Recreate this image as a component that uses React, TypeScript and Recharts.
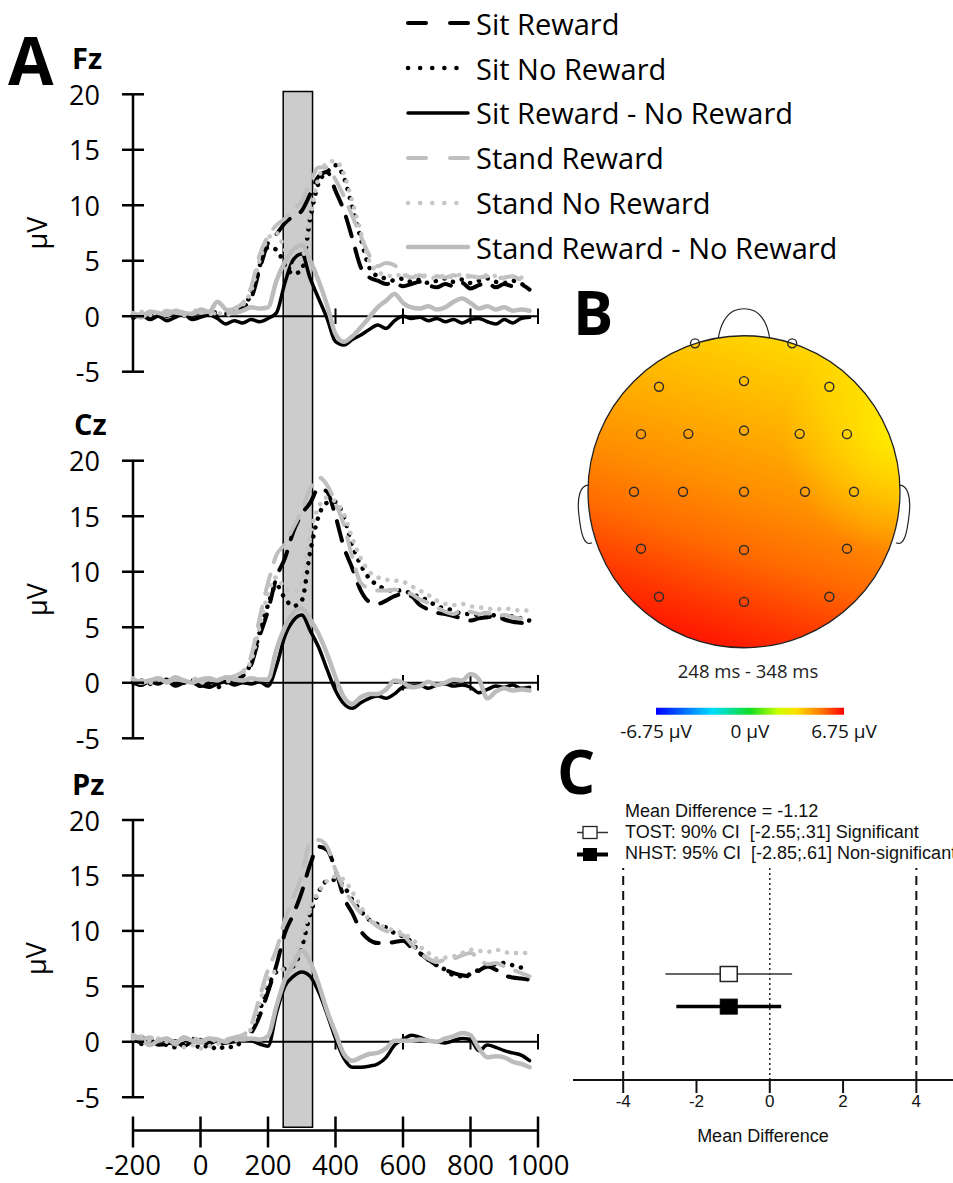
import React from "react";
import {
  LineChart,
  Line,
  XAxis,
  YAxis,
  ReferenceLine,
  ReferenceArea,
  ReferenceDot,
  Legend,
  ScatterChart,
  Scatter,
  ErrorBar,
  BarChart,
  Bar,
} from "recharts";

// time axis (ms) — samples every 25 ms
const TIMES = [
  -200, -175, -150, -125, -100, -75, -50, -25, 0, 25, 50, 75, 100, 125, 150, 175, 200, 225, 250, 275, 300, 325, 350,
  375, 400, 425, 450, 475, 500, 525, 550, 575, 600, 625, 650, 675, 700, 725, 750, 775, 800, 825, 850, 875, 900, 925,
  950, 975,
];
const X_TICKS = [-200, 0, 200, 400, 600, 800, 1000];
const Y_TICKS = [-5, 0, 5, 10, 15, 20];
const ZERO_TICKS = [400, 600, 800, 1000];
const WINDOW = [245, 332];

// Fz
const FZ_SIT_R = [0.2, 0.0, 0.3, 0.1, 0.4, 0.2, 0.3, 0.5, 0.2, 0.1, 0.4, 0.3, 0.6, 0.8, 1.6, 4.2, 6.6, 7.4, 8.4, 9.0, 9.5, 11.0, 12.6, 13.0, 11.3, 9.5, 7.0, 4.4, 3.5, 3.2, 2.9, 3.0, 2.7, 2.9, 3.1, 2.8, 2.6, 2.9, 2.7, 3.0, 2.5, 2.8, 3.0, 2.6, 2.9, 2.7, 2.8, 2.4];
const FZ_SIT_N = [0.1, 0.3, -0.1, 0.2, 0.0, 0.3, 0.1, -0.2, 0.3, 0.2, 0.0, 0.2, 0.4, 0.9, 2.0, 4.5, 6.2, 6.0, 4.6, 3.8, 4.2, 8.8, 12.0, 13.0, 13.6, 12.5, 9.8, 7.0, 4.4, 3.6, 3.4, 3.2, 3.4, 3.1, 3.3, 3.0, 3.2, 3.4, 3.1, 3.3, 3.0, 3.2, 3.4, 3.1, 3.0, 3.2, 2.9, 2.8];
const FZ_SIT_D = [-0.2, 0.1, -0.3, 0.0, -0.4, -0.1, 0.2, -0.3, -0.1, 0.1, -0.2, -0.7, -0.4, -0.6, -0.3, -0.5, -0.2, 0.3, 3.0, 5.1, 5.6, 3.4, 1.6, -0.2, -2.3, -2.6, -2.1, -1.7, -1.2, -0.8, -1.1, -0.4, 0.0, -0.2, -0.1, -0.4, -0.2, -0.5, -0.3, -0.6, -0.3, -0.2, -0.5, -0.7, -0.3, -0.6, -0.2, -0.1];
const FZ_ST_R = [0.3, 0.1, 0.4, 0.2, 0.5, 0.3, 0.2, 0.6, 0.3, 0.4, 0.2, 0.5, 0.7, 1.2, 2.6, 5.5, 7.2, 8.2, 8.8, 9.7, 10.3, 12.0, 13.4, 13.4, 12.3, 10.8, 9.0, 7.2, 5.5, 4.5, 4.8, 4.6, 3.8, 3.5, 3.7, 3.4, 3.6, 3.5, 3.7, 3.4, 3.6, 3.5, 3.6, 3.4, 3.5, 3.6, 3.3, 3.4];
const FZ_ST_N = [0.2, 0.4, 0.1, 0.3, 0.2, 0.5, 0.1, 0.3, 0.4, 0.2, 0.3, 0.1, 0.5, 1.0, 2.3, 5.0, 7.0, 7.5, 6.0, 4.5, 5.0, 9.0, 12.5, 13.8, 14.0, 12.8, 10.3, 7.6, 5.0, 4.0, 3.7, 3.6, 3.8, 3.5, 3.7, 3.6, 3.4, 3.7, 3.5, 3.8, 3.6, 3.5, 3.7, 3.6, 3.4, 3.6, 3.5, 3.3];
const FZ_ST_D = [0.2, -0.1, 0.4, 0.3, 0.1, 0.5, 0.3, 0.2, 0.6, 0.4, 1.3, 0.6, 0.3, 0.5, 0.8, 0.7, 0.8, 3.2, 4.9, 6.0, 6.4, 5.0, 3.2, 1.0, -1.6, -2.3, -1.8, -1.0, -0.1, 0.8, 1.4, 2.0, 1.2, 0.8, 0.7, 0.9, 0.6, 0.8, 1.3, 1.6, 1.2, 0.7, 0.9, 0.6, 0.8, 0.5, 0.6, 0.5];

// Cz
const CZ_SIT_R = [0.1, -0.2, 0.2, 0.0, 0.3, -0.1, 0.2, 0.1, -0.3, 0.0, 0.2, 0.1, 0.3, 0.6, 1.6, 4.2, 6.5, 9.5, 11.2, 13.6, 15.2, 16.2, 17.5, 17.2, 15.0, 12.2, 10.3, 8.3, 7.3, 7.1, 7.4, 7.8, 8.0, 7.8, 7.0, 6.6, 6.3, 6.2, 6.0, 5.8, 5.6, 5.8, 5.9, 6.0, 5.7, 5.5, 5.4, 5.3];
const CZ_SIT_N = [0.0, 0.2, -0.1, 0.3, 0.1, -0.2, 0.0, 0.2, 0.1, -0.3, -0.4, 0.0, 0.2, 0.7, 1.8, 4.5, 7.0, 8.8, 7.6, 6.9, 7.4, 11.8, 15.0, 16.2, 16.3, 14.9, 12.3, 10.6, 9.4, 8.8, 8.4, 8.3, 8.3, 8.0, 7.7, 7.4, 6.9, 6.7, 6.5, 6.2, 6.2, 6.1, 6.3, 6.0, 5.9, 6.0, 5.8, 5.6];
const CZ_SIT_D = [0.0, -0.2, 0.1, -0.1, 0.2, -0.3, 0.0, 0.1, -0.2, -0.4, -0.1, 0.1, -0.2, 0.0, -0.1, 0.1, -0.3, 1.5, 4.2, 5.6, 6.1, 4.7, 3.2, 1.2, -0.7, -1.9, -2.3, -1.8, -1.4, -1.2, -1.4, -1.0, -0.4, -0.3, -0.2, -0.5, -0.2, -0.1, -0.3, -0.2, -0.4, -0.9, -0.6, -0.3, -0.4, -0.2, -0.5, -0.4];
const CZ_ST_R = [0.3, 0.1, 0.2, 0.4, 0.0, 0.3, 0.2, 0.5, 0.1, 0.3, 0.2, 0.4, 0.6, 1.0, 2.4, 5.8, 9.0, 11.5, 12.5, 14.0, 15.5, 17.5, 18.5, 17.8, 16.2, 14.2, 11.3, 9.0, 8.5, 8.3, 8.3, 8.4, 8.2, 8.0, 7.5, 7.2, 6.8, 6.4, 6.2, 6.5, 6.4, 6.2, 6.3, 6.0, 6.1, 5.9, 5.8, 5.9];
const CZ_ST_N = [0.4, 0.2, 0.0, 0.3, 0.1, 0.4, 0.2, 0.3, 0.0, 0.2, 0.4, 0.1, 0.5, 0.9, 2.0, 5.0, 8.0, 9.5, 8.5, 8.2, 9.0, 13.5, 15.8, 16.7, 16.3, 15.2, 13.0, 11.2, 10.0, 9.5, 9.3, 9.2, 9.1, 8.7, 8.3, 7.9, 7.4, 7.1, 7.0, 7.1, 6.9, 6.8, 6.7, 6.6, 6.7, 6.6, 6.5, 6.5];
const CZ_ST_D = [0.3, 0.0, 0.2, 0.4, 0.1, 0.5, 0.2, 0.0, 0.3, 0.4, 0.2, 0.5, 0.3, 0.2, 0.4, 0.3, 0.3, 3.0, 5.0, 6.3, 6.7, 5.7, 4.4, 2.6, 0.5, -1.3, -1.9, -1.3, -1.0, -1.0, -0.6, 0.2, 0.0, -0.4, -0.3, 0.1, -0.2, 0.0, 0.3, 0.2, 0.8, 0.3, -1.4, -0.8, -0.5, -0.7, -0.6, -0.7];

// Pz
const PZ_SIT_R = [0.2, 0.4, -0.1, 0.3, 0.0, -0.2, 0.1, 0.3, -0.1, 0.2, -0.3, 0.0, 0.2, 0.3, 0.8, 2.3, 4.5, 6.9, 9.8, 11.5, 13.5, 16.0, 17.6, 17.3, 15.5, 13.0, 11.6, 10.0, 9.2, 8.9, 8.9, 9.0, 9.1, 8.5, 8.0, 7.4, 6.9, 6.5, 6.2, 6.0, 5.9, 6.4, 6.8, 6.5, 6.0, 5.8, 5.7, 5.6];
const PZ_SIT_N = [0.1, -0.2, 0.3, 0.0, -0.3, -0.5, -0.2, 0.1, -0.6, -0.3, -0.7, -0.4, -0.5, 0.2, 1.0, 2.8, 5.0, 6.3, 6.6, 6.8, 8.5, 11.5, 13.5, 14.5, 14.6, 14.0, 12.8, 11.8, 11.0, 10.6, 10.3, 9.8, 9.5, 9.0, 8.0, 7.4, 6.9, 6.5, 6.0, 5.9, 6.1, 6.5, 6.8, 7.0, 7.1, 6.9, 6.7, 6.6];
const PZ_SIT_D = [0.3, -0.1, 0.2, -0.3, -0.2, 0.1, -0.4, 0.0, 0.2, -0.2, 0.1, -0.1, 0.0, 0.2, 0.1, -0.2, -0.4, 2.6, 5.0, 5.9, 6.3, 5.9, 4.5, 2.5, 0.3, -1.5, -2.3, -2.3, -2.2, -2.0, -1.4, -0.3, 0.2, 0.6, 0.4, 0.1, 0.0, -0.1, 0.1, 0.3, 0.2, -0.8, -0.3, -0.5, -0.8, -1.0, -1.2, -1.7];
const PZ_ST_R = [0.5, 0.2, 0.4, 0.1, 0.3, 0.0, 0.2, 0.4, 0.1, 0.3, 0.0, 0.2, 0.4, 0.6, 1.5, 4.0, 6.5, 8.3, 11.0, 13.0, 15.0, 18.0, 18.2, 17.6, 15.5, 13.8, 12.6, 11.6, 11.0, 10.4, 10.0, 9.8, 9.6, 8.8, 8.0, 7.5, 7.2, 7.4, 7.5, 7.8, 8.0, 7.5, 7.0, 7.1, 6.8, 6.5, 6.2, 5.9];
const PZ_ST_N = [0.2, 0.5, 0.1, 0.3, 0.0, -0.2, -0.5, -0.3, -0.6, -0.4, -0.2, 0.0, 0.1, 0.3, 1.2, 3.5, 5.8, 6.4, 6.6, 7.5, 9.5, 12.0, 13.5, 14.5, 14.9, 14.6, 13.5, 12.2, 11.0, 10.6, 10.3, 10.0, 9.8, 9.3, 8.6, 8.0, 7.5, 7.6, 7.7, 8.0, 8.3, 8.2, 8.1, 8.3, 8.1, 8.0, 8.0, 8.0];
const PZ_ST_D = [0.6, 0.2, -0.3, 0.1, 0.3, -0.2, 0.4, 0.1, -0.1, 0.3, 0.2, 0.0, 0.3, 0.2, 0.3, 0.2, 0.5, 3.2, 5.6, 7.0, 8.2, 7.2, 5.2, 2.8, 0.8, -1.1, -1.7, -1.4, -1.1, -1.0, -0.6, 0.1, 0.1, 0.1, 0.2, 0.1, 0.0, 0.3, 0.5, 0.8, 0.6, -0.6, -1.4, -1.3, -1.4, -1.8, -2.0, -2.3];

// topographic map electrodes (unit head coordinates)
const ELECTRODES = [
  { x: -0.314, y: 0.951 }, { x: 0.309, y: 0.951 },
  { x: -0.545, y: 0.673 }, { x: 0, y: 0.709 }, { x: 0.547, y: 0.673 },
  { x: -0.66, y: 0.369 }, { x: -0.357, y: 0.371 }, { x: 0, y: 0.392 }, { x: 0.357, y: 0.371 }, { x: 0.66, y: 0.369 },
  { x: -0.705, y: 0 }, { x: -0.391, y: 0 }, { x: 0, y: 0 }, { x: 0.391, y: 0 }, { x: 0.705, y: 0 },
  { x: -0.66, y: -0.365 }, { x: 0, y: -0.373 }, { x: 0.66, y: -0.365 },
  { x: -0.545, y: -0.673 }, { x: 0, y: -0.706 }, { x: 0.547, y: -0.673 },
];
const CBAR_TICKS = [-6.75, 0, 6.75];
const CBAR_ROWS = [{ name: "scale", range: [-6.75, 6.75] }];

// equivalence test
const MD_TICKS = [-4, -2, 0, 2, 4];
const MEAN_DIFF = -1.12;
const TOST_CI = [-2.85, 0.61];
const NHST_CI = [-2.55, 0.31];
const BOUNDS = [-4, 4];

const SERIES = [
  { key: "sitR", name: "Sit Reward", color: "#000000", width: 4, dash: "20 13", legendDash: "18 24" },
  { key: "sitN", name: "Sit No Reward", color: "#000000", width: 4.5, dash: "0.1 9", legendDash: "0.1 12" },
  { key: "sitD", name: "Sit Reward - No Reward", color: "#000000", width: 3.5 },
  { key: "stR", name: "Stand Reward", color: "#bfbfbf", width: 4, dash: "20 13", legendDash: "18 24" },
  { key: "stN", name: "Stand No Reward", color: "#c6c6c6", width: 4.5, dash: "0.1 9", legendDash: "0.1 12" },
  { key: "stD", name: "Stand Reward - No Reward", color: "#bcbcbc", width: 4.5 },
];

const FONT = "'Open Sans', sans-serif";
const ARIAL = "'Liberation Sans', Arial, sans-serif";

function buildRows(arrs: number[][]) {
  return TIMES.map((t, i) => {
    const row: Record<string, number> = { t };
    SERIES.forEach((s, j) => (row[s.key] = arrs[j][i]));
    return row;
  });
}

const FZ_ROWS = buildRows([FZ_SIT_R, FZ_SIT_N, FZ_SIT_D, FZ_ST_R, FZ_ST_N, FZ_ST_D]);
const CZ_ROWS = buildRows([CZ_SIT_R, CZ_SIT_N, CZ_SIT_D, CZ_ST_R, CZ_ST_N, CZ_ST_D]);
const PZ_ROWS = buildRows([PZ_SIT_R, PZ_SIT_N, PZ_SIT_D, PZ_ST_R, PZ_ST_N, PZ_ST_D]);

const YTick = (p: any) => (
  <g>
    <line x1={p.x - 11} x2={p.x + 11} y1={p.y} y2={p.y} stroke="#000" strokeWidth={2.5} />
    <text x={p.x - 33} y={p.y} textAnchor="end" dominantBaseline="central" fontSize={27} fontFamily={FONT} fill="#000">
      {p.payload.value}
    </text>
  </g>
);

const XTick = (p: any) => (
  <g>
    <line x1={p.x} x2={p.x} y1={p.y - 14} y2={p.y + 17} stroke="#000" strokeWidth={2.5} />
    <text x={p.x} y={p.y + 34} textAnchor="middle" dominantBaseline="central" fontSize={27.5} fontFamily={FONT} fill="#000">
      {p.payload.value}
    </text>
  </g>
);

const uvLabel = (yMin: number) => (p: any) => {
  const vb = p.viewBox;
  const cy = vb.y + (vb.height * (20 - 7.5)) / (20 - yMin);
  return (
    <text
      x={36}
      y={cy}
      transform={`rotate(-90 36 ${cy})`}
      textAnchor="middle"
      dominantBaseline="central"
      fontSize={27}
      fontFamily={FONT}
      fill="#000"
    >
      µV
    </text>
  );
};

const ErpLegend = () => (
  <div style={{ fontFamily: FONT, fontSize: 29, color: "#000" }}>
    {SERIES.map((s) => (
      <div key={s.key} style={{ height: 44.8, display: "flex", alignItems: "center" }}>
        <svg width={70} height={12}>
          <line
            x1={5}
            x2={65}
            y1={6}
            y2={6}
            stroke={s.color}
            strokeWidth={s.width}
            strokeDasharray={s.legendDash}
            strokeLinecap="round"
          />
        </svg>
        <span style={{ marginLeft: 3, whiteSpace: "nowrap" }}>{s.name}</span>
      </div>
    ))}
  </div>
);

function ErpPanel(props: {
  rows: Record<string, number>[];
  top: number;
  height: number;
  mTop: number;
  mBottom: number;
  yMin: number;
  last?: boolean;
  legend?: boolean;
}) {
  const { rows, top, height, mTop, mBottom, yMin, last, legend } = props;
  return (
    <div style={{ position: "absolute", left: 0, top }}>
      <LineChart width={560} height={height} data={rows} margin={{ top: mTop, right: 22, bottom: mBottom, left: 0 }}>
        <XAxis
          type="number"
          dataKey="t"
          domain={[-200, 1000]}
          ticks={X_TICKS}
          interval={0}
          hide={!last}
          height={52.5}
          tickLine={false}
          tickSize={0}
          tickMargin={0}
          axisLine={{ stroke: "#000", strokeWidth: 2.5 }}
          tick={XTick}
        />
        <YAxis
          type="number"
          domain={[yMin, 20]}
          ticks={Y_TICKS}
          interval={0}
          width={133}
          axisLine={false}
          tickLine={false}
          tickSize={0}
          tickMargin={0}
          tick={YTick}
          label={{ content: uvLabel(yMin) }}
        />
        {last && (
          <ReferenceArea
            x1={WINDOW[0]}
            x2={WINDOW[1]}
            y1={-7.7}
            y2={85.7}
            ifOverflow="visible"
            fill="#cccccc"
            fillOpacity={1}
            stroke="#000"
            strokeWidth={1.5}
          />
        )}
        <ReferenceLine
          segment={[
            { x: -200, y: -5 },
            { x: -200, y: 20 },
          ]}
          stroke="#000"
          strokeWidth={2.5}
          ifOverflow="visible"
        />
        <ReferenceLine y={0} stroke="#000" strokeWidth={2} />
        {ZERO_TICKS.map((x) => (
          <ReferenceLine
            key={x}
            segment={[
              { x, y: -0.7 },
              { x, y: 0.7 },
            ]}
            stroke="#000"
            strokeWidth={2}
            ifOverflow="visible"
          />
        ))}
        {legend && (
          <Legend
            layout="vertical"
            align="center"
            verticalAlign="middle"
            wrapperStyle={{ top: 1, left: 403, width: 480 }}
            content={() => <ErpLegend />}
          />
        )}
        {SERIES.map((s) => (
          <Line
            key={s.key}
            type="monotone"
            dataKey={s.key}
            name={s.name}
            stroke={s.color}
            strokeWidth={s.width}
            strokeDasharray={s.dash}
            strokeLinecap="round"
            dot={false}
            activeDot={false}
            isAnimationActive={false}
          />
        ))}
      </LineChart>
    </div>
  );
}

const HeadShape = (p: any) => {
  const { cx, cy } = p;
  const R = 156;
  const ear = (s: number) =>
    `M ${cx + s * 152} ${cy - 6} C ${cx + s * 165} ${cy - 10} ${cx + s * 167} ${cy + 8} ${cx + s * 165} ${cy + 24} ` +
    `C ${cx + s * 163} ${cy + 42} ${cx + s * 160} ${cy + 55} ${cx + s * 152} ${cy + 51}`;
  const nose =
    `M ${cx - 26} ${cy - 152} C ${cx - 24} ${cy - 165} ${cx - 20} ${cy - 176} ${cx - 10} ${cy - 181} ` +
    `Q ${cx} ${cy - 185} ${cx + 10} ${cy - 181} C ${cx + 20} ${cy - 176} ${cx + 24} ${cy - 165} ${cx + 26} ${cy - 152}`;
  return (
    <g>
      <path d={ear(-1)} fill="#fff" stroke="#222" strokeWidth={1.2} />
      <path d={ear(1)} fill="#fff" stroke="#222" strokeWidth={1.2} />
      <path d={nose} fill="#fff" stroke="#222" strokeWidth={1.2} />
      <circle cx={cx} cy={cy} r={R} fill="url(#headGrad)" />
      <circle cx={cx} cy={cy} r={R} fill="url(#headGlow)" stroke="#222" strokeWidth={1.3} />
    </g>
  );
};

const Electrode = (p: any) => <circle cx={p.cx} cy={p.cy} r={4.5} fill="none" stroke="#2a2a2a" strokeWidth={1.4} />;

function TopoPanel() {
  return (
    <div style={{ position: "absolute", left: 560, top: 280 }}>
      <ScatterChart width={393} height={470} margin={{ top: 24.5, right: 53, bottom: 35, left: 28 }}>
        <XAxis type="number" dataKey="x" domain={[-1, 1]} hide />
        <YAxis type="number" dataKey="y" domain={[-1.431, 1.2]} hide />
        <ReferenceDot x={0} y={0} r={156} shape={HeadShape} ifOverflow="visible" />
        <Scatter data={ELECTRODES} shape={Electrode} isAnimationActive={false} />
      </ScatterChart>
    </div>
  );
}

function ColorBar() {
  return (
    <div style={{ position: "absolute", left: 600, top: 700 }}>
      <BarChart
        width={300}
        height={50}
        layout="vertical"
        data={CBAR_ROWS}
        margin={{ top: 7.7, right: 56, bottom: 0, left: 56 }}
        barCategoryGap={0}
      >
        <XAxis
          type="number"
          domain={[-6.75, 6.75]}
          ticks={CBAR_TICKS}
          interval={0}
          height={35}
          axisLine={false}
          tickLine={false}
          tickSize={0}
          tickMargin={10}
          tick={{ fontSize: 19, fill: "#111", fontFamily: FONT }}
          tickFormatter={(v: number) => `${v} µV`}
        />
        <YAxis type="category" dataKey="name" hide />
        <Bar dataKey="range" fill="url(#jetGrad)" isAnimationActive={false} />
      </BarChart>
    </div>
  );
}

const OpenSquare = (p: any) => (
  <rect x={p.cx - 8.5} y={p.cy - 7.5} width={17} height={15} fill="#fff" stroke="#222" strokeWidth={1.5} />
);
const FilledSquare = (p: any) => (
  <rect x={p.cx - 8.5} y={p.cy - 7.5} width={17} height={15} fill="#000" stroke="#000" strokeWidth={1} />
);

const EqLegend = () => (
  <div style={{ fontFamily: ARIAL, fontSize: 18, color: "#111", lineHeight: "21.4px", whiteSpace: "pre" }}>
    <div style={{ paddingLeft: 49 }}>Mean Difference = {MEAN_DIFF}</div>
    <div style={{ display: "flex", alignItems: "center" }}>
      <svg width={49} height={21}>
        <line x1={1} x2={32} y1={10.5} y2={10.5} stroke="#333" strokeWidth={1.5} />
        <rect x={7} y={4.5} width={14} height={12} fill="#fff" stroke="#222" strokeWidth={1.3} />
      </svg>
      <span>TOST: 90% CI  [-2.55;.31] Significant</span>
    </div>
    <div style={{ display: "flex", alignItems: "center" }}>
      <svg width={49} height={21}>
        <line x1={1} x2={32} y1={10.5} y2={10.5} stroke="#000" strokeWidth={4} />
        <rect x={7} y={4} width={14} height={13} fill="#000" />
      </svg>
      <span>NHST: 95% CI  [-2.85;.61] Non-significant</span>
    </div>
  </div>
);

function EquivPanel() {
  const tost = [{ x: MEAN_DIFF, y: 2, err: [MEAN_DIFF - TOST_CI[0], TOST_CI[1] - MEAN_DIFF] }];
  const nhst = [{ x: MEAN_DIFF, y: 1, err: [MEAN_DIFF - NHST_CI[0], NHST_CI[1] - MEAN_DIFF] }];
  return (
    <div style={{ position: "absolute", left: 560, top: 750 }}>
      <ScatterChart width={393} height={433} margin={{ top: 118, right: 0, bottom: 33, left: 13 }}>
        <XAxis
          type="number"
          dataKey="x"
          domain={[-5.37, 5.0]}
          ticks={MD_TICKS}
          interval={0}
          height={70}
          tickSize={13}
          tickMargin={2}
          axisLine={{ stroke: "#111", strokeWidth: 2 }}
          tickLine={{ stroke: "#111", strokeWidth: 2 }}
          tick={{ fontSize: 17, fill: "#111", fontFamily: ARIAL }}
          label={{
            value: "Mean Difference",
            position: "insideBottom",
            offset: 8,
            fontSize: 18,
            fill: "#111",
            fontFamily: ARIAL,
          }}
        />
        <YAxis type="number" dataKey="y" domain={[-1.25, 5.25]} hide />
        {BOUNDS.map((b) => (
          <ReferenceLine key={b} x={b} stroke="#111" strokeWidth={2} strokeDasharray="9 6" />
        ))}
        <ReferenceLine x={0} stroke="#222" strokeWidth={1.5} strokeDasharray="2 3" />
        <Legend
          layout="vertical"
          align="center"
          verticalAlign="middle"
          wrapperStyle={{ top: 50.5, left: 16, width: 420 }}
          content={() => <EqLegend />}
        />
        <Scatter name="TOST" data={tost} shape={OpenSquare} isAnimationActive={false}>
          <ErrorBar dataKey="err" direction="x" width={0} stroke="#333" strokeWidth={1.5} isAnimationActive={false} />
        </Scatter>
        <Scatter name="NHST" data={nhst} shape={FilledSquare} isAnimationActive={false}>
          <ErrorBar dataKey="err" direction="x" width={0} stroke="#000" strokeWidth={3.5} isAnimationActive={false} />
        </Scatter>
      </ScatterChart>
    </div>
  );
}

export default function App() {
  return (
    <div style={{ position: "relative", width: 953, height: 1183, overflow: "hidden", background: "#fff" }}>
      <style>{`body{margin:0}.recharts-surface{overflow:visible}`}</style>
      <svg width={0} height={0} style={{ position: "absolute" }}>
        <defs>
          <linearGradient id="headGrad" x1="0.66" y1="0" x2="0.34" y2="1">
            <stop offset="0" stopColor="#ffda00" />
            <stop offset="0.15" stopColor="#ffc400" />
            <stop offset="0.35" stopColor="#ffa600" />
            <stop offset="0.5" stopColor="#ff8e00" />
            <stop offset="0.68" stopColor="#ff6a00" />
            <stop offset="0.85" stopColor="#ff3800" />
            <stop offset="1" stopColor="#ff1000" />
          </linearGradient>
          <radialGradient id="headGlow" cx="1" cy="0.32" r="0.38">
            <stop offset="0" stopColor="#ffff00" stopOpacity={0.75} />
            <stop offset="1" stopColor="#ffff00" stopOpacity={0} />
          </radialGradient>
          <linearGradient id="jetGrad" x1="0" y1="0" x2="1" y2="0">
            <stop offset="0" stopColor="#0000ff" />
            <stop offset="0.3" stopColor="#00ddff" />
            <stop offset="0.5" stopColor="#11dd22" />
            <stop offset="0.65" stopColor="#ccff00" />
            <stop offset="0.75" stopColor="#ffdd00" />
            <stop offset="0.88" stopColor="#ff7700" />
            <stop offset="1" stopColor="#ff0000" />
          </linearGradient>
        </defs>
      </svg>

      {/* Pz first so the shaded window sits beneath the other panels */}
      <ErpPanel rows={PZ_ROWS} top={770} height={413} mTop={50} mBottom={0} yMin={-8} last />
      <ErpPanel rows={CZ_ROWS} top={400} height={370} mTop={60.7} mBottom={31.7} yMin={-5} />
      <ErpPanel rows={FZ_ROWS} top={0} height={400} mTop={94.3} mBottom={28.3} yMin={-5} legend />
      <TopoPanel />
      <ColorBar />
      <EquivPanel />

      <svg width={953} height={1183} style={{ position: "absolute", left: 0, top: 0, pointerEvents: "none" }}>
        <g fontFamily={FONT} fontWeight={700} fill="#000">
          <text x={8} y={85} fontSize={66}>A</text>
          <text x={72} y={69} fontSize={29}>Fz</text>
          <text x={74} y={435} fontSize={29}>Cz</text>
          <text x={72} y={795} fontSize={29}>Pz</text>
          <text x={573} y={335} fontSize={60}>B</text>
          <text x={557} y={794} fontSize={60}>C</text>
        </g>
        <text x={748} y={670} textAnchor="middle" dominantBaseline="central" fontFamily={FONT} fontSize={18.5} fill="#222">
          248 ms - 348 ms
        </text>
      </svg>
    </div>
  );
}
